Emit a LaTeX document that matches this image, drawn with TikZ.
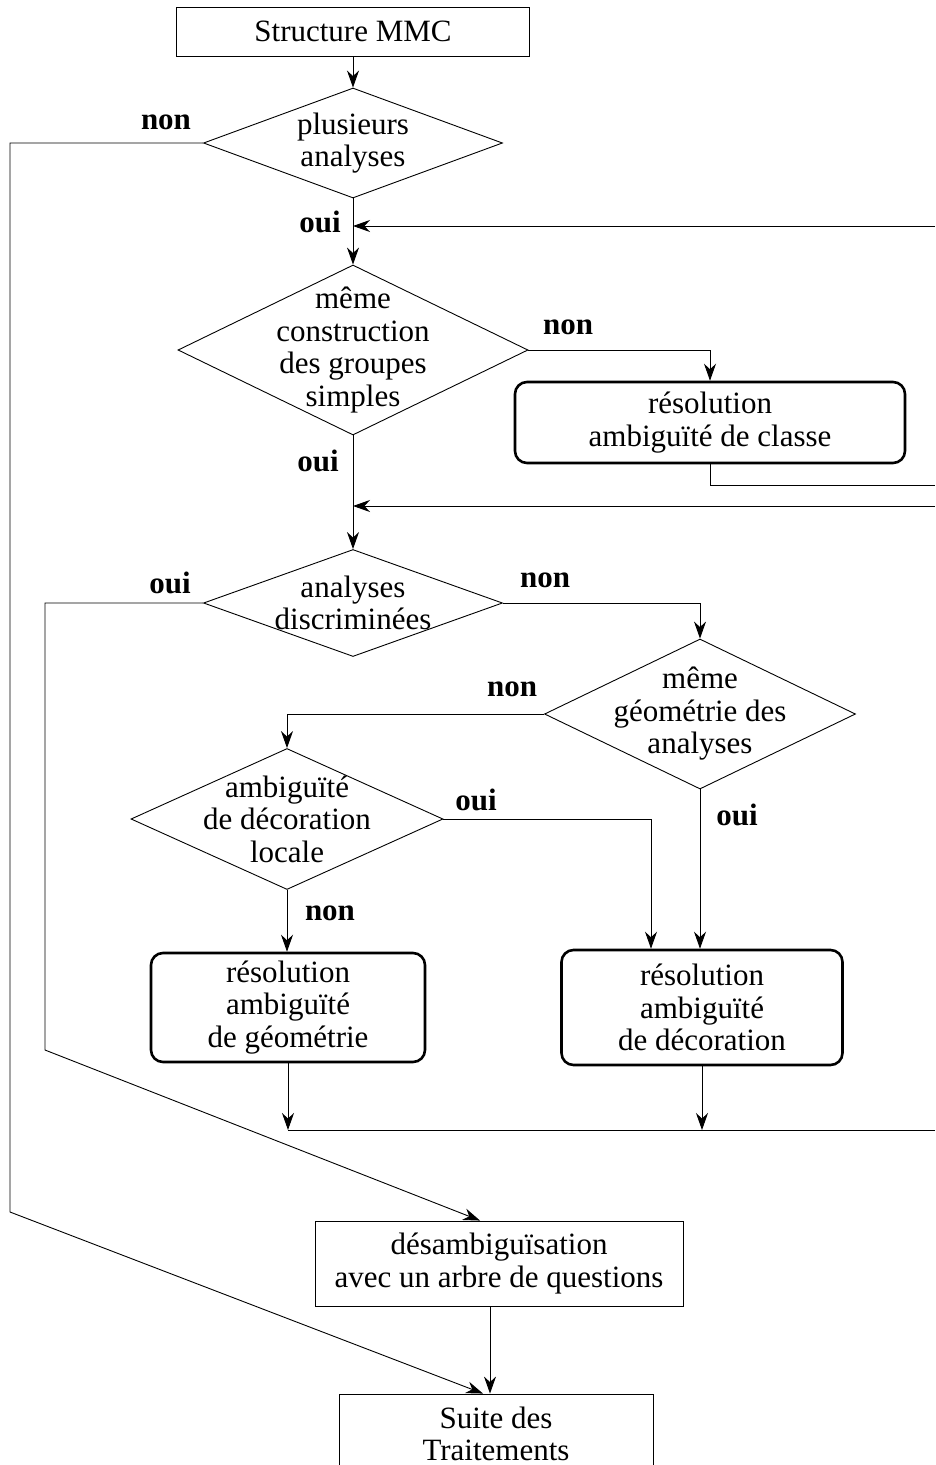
\documentclass[tikz,border=0pt]{standalone}
\usepackage{fontspec}
\setmainfont{Liberation Serif}
\usetikzlibrary{arrows.meta,calc,shapes.geometric}
\tikzset{box/.style={draw=black,line width=0.9pt,align=center,inner sep=0pt},dec/.style={draw=black,diamond,line width=0.9pt,inner sep=0pt},res/.style={draw=black,rounded corners=12pt,line width=2.6pt,align=center,inner sep=0pt},arr/.style={-{Stealth[length=17pt,width=12pt]},line width=0.9pt},ln/.style={line width=0.9pt},lab/.style={font=\fontsize{31}{32}\selectfont\bfseries},txt/.style={align=center}}

\begin{document}
\begin{tikzpicture}[x=1pt,y=-1pt,font=\fontsize{31}{32.5}\selectfont]
\useasboundingbox (0,0) rectangle (935,1465);
\clip (0,0) rectangle (935,1465);
\node[box,minimum width=353pt,minimum height=49pt] (mmc) at (353,31.5) {Structure MMC};
\node[dec,minimum width=299pt,minimum height=110pt,label={[txt]center:plusieurs\\analyses}] (plus) at (353,143) {};
\node[dec,minimum width=350pt,minimum height=170pt,label={[txt]center:même\\construction\\des groupes\\simples}] (cons) at (353,350) {};
\node[res,minimum width=390pt,minimum height=81pt] (cls) at (710,422.5) {résolution\\ambiguïté de classe};
\node[dec,minimum width=299pt,minimum height=107pt,label={[txt]center:analyses\\discriminées}] (disc) at (353,603) {};
\node[dec,minimum width=311pt,minimum height=150pt,label={[txt]center:même\\géométrie des\\analyses}] (geom) at (700,714) {};
\node[dec,minimum width=312pt,minimum height=141pt,label={[txt]center:ambiguïté\\de décoration\\locale}] (loc) at (287,819) {};
\node[res,minimum width=274pt,minimum height=109pt] (rgeo) at (288,1007.5) {résolution\\ambiguïté\\de géométrie};
\node[res,minimum width=281pt,minimum height=115pt] (rdeco) at (702,1007.5) {résolution\\ambiguïté\\de décoration};
\node[box,minimum width=368pt,minimum height=85pt] (desamb) at (499,1263.5) {désambiguïsation\\avec un arbre de questions};
\node[box,minimum width=314pt,minimum height=80pt] (suite) at (496,1434) {Suite des\\Traitements};
% labels
\node[lab] (n1) at (166,122) {non};
\node[lab] (o1) at (320,222) {oui};
\node[lab] (n2) at (568,327) {non};
\node[lab] (o2) at (318,461) {oui};
\node[lab] (o3) at (170,583) {oui};
\node[lab] (n3) at (545,580) {non};
\node[lab] (n4) at (512,689) {non};
\node[lab] (o4) at (476,800) {oui};
\node[lab] (o5) at (737,815) {oui};
\node[lab] (n5) at (330,913) {non};
% bends and right edge
\coordinate (k1) at (10,1212);
\coordinate (k2) at (45,1050);
\coordinate (e1) at (935,226);
\coordinate (e2) at (935,485);
\coordinate (e3) at (935,506);
\coordinate (e4) at (935,1130);
\draw[arr] (mmc) -- (plus);
\draw[arr] (plus.west) -| (k1) -- ($(suite.north)+(-13,0)$);
\draw[arr] (plus.south) -- (cons.north);
\draw[arr] (e1) -- (plus.south |- e1);
\draw[arr] (cons.east) -| (cls.north);
\draw[ln] (cls.south) |- (e2);
\draw[arr] (cons.south) -- (disc.north);
\draw[arr] (e3) -- (cons.south |- e3);
\draw[arr] (disc.west) -| (k2) -- ($(desamb.north)+(-19,0)$);
\draw[arr] (disc.east) -| (geom.north);
\draw[arr] (geom.west) -| (loc.north);
\draw[arr] (geom.south) -- (geom.south |- rdeco.north);
\draw[arr] (loc.east) -| ($(rdeco.north)+(-51,0)$);
\draw[arr] (loc.south) -- (loc.south |- rgeo.north);
\draw[arr] (rgeo.south) -- (rgeo.south |- e4);
\draw[arr] (rdeco.south) -- (rdeco.south |- e4);
\draw[ln] (rgeo.south |- e4) -- (e4);
\draw[arr] ($(desamb.south)+(-9,0)$) coordinate (q) -- (q |- suite.north);
\end{tikzpicture}
\end{document}
